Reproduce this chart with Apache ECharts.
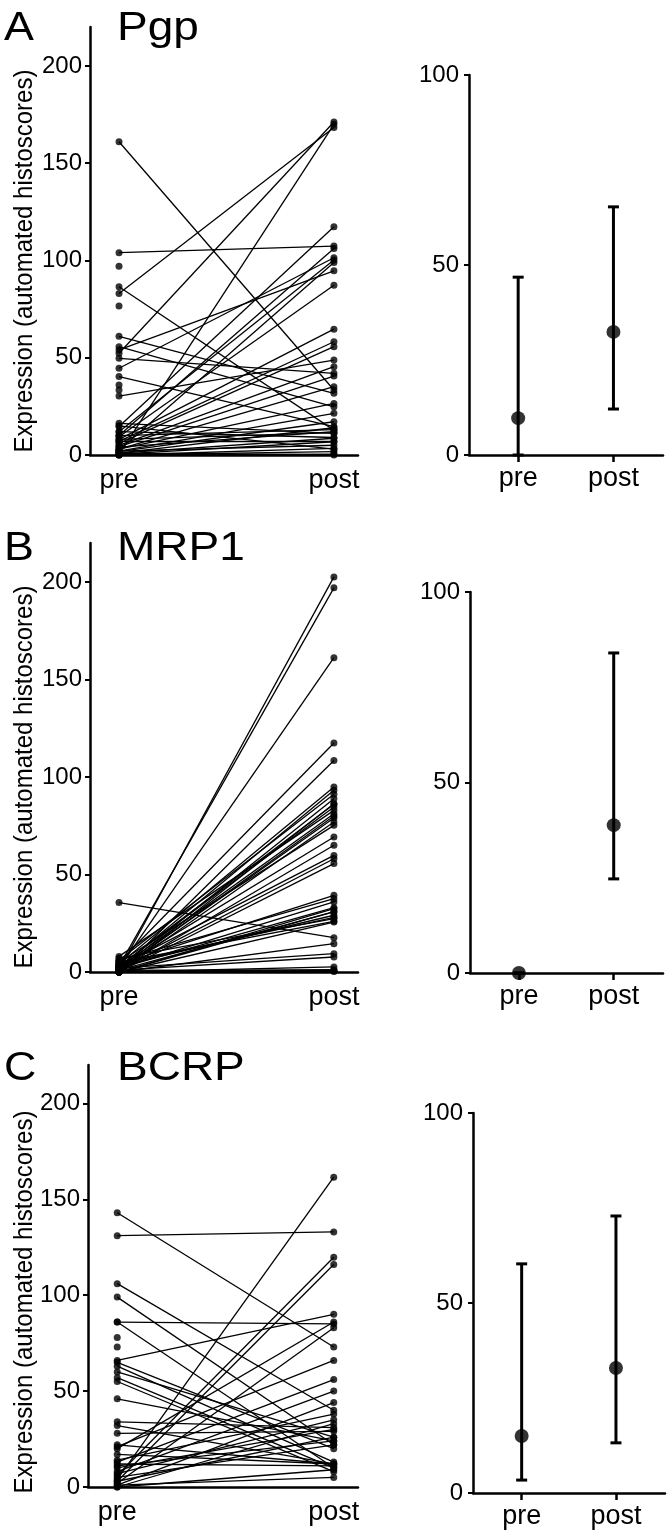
<!DOCTYPE html>
<html>
<head>
<meta charset="utf-8">
<script src="https://cdn.jsdelivr.net/npm/echarts@6/dist/echarts.min.js"></script>
<style>
  html, body { margin: 0; padding: 0; background: #fff; }
  #main { width: 672px; height: 1539px; }
</style>
</head>
<body>
<div id="main"></div>
<script>
// categories and ticks
const categories = ["pre", "post"];
const leftTicks = [0, 50, 100, 150, 200];
const rightTicks = [0, 50, 100];

// Pgp: paired histoscores (null = no paired value)
const pgpPre = [161, 104, 97, 86.5, 83, 76.6, 61, 55.7, 54, 52.3, 49.7, 44.6, 40.3, 36, 33.4, 30.3, 16.3, 14.6, 12, 10, 9.4, 8, 7, 6, 5, 4.3, 3, 3, 2, 1.7, 1, 1, 0.5, 0, 0, 0, 12, 8, 6.9, 15, 4, 10, 2, 1, 0.3, 2.5];
const pgpPost = [33.4, 107.4, null, 12.8, 168.3, null, 31.7, 24.8, 94.7, 171.2, 42, 101.4, 14.6, null, null, 48.8, 11.1, 117.3, 100.2, 106.2, 87.3, 64.7, 58.2, 55.7, 45.4, 40.6, 35.1, 26.5, 21.4, 17.1, 14, 8.6, 6.8, 3.4, 1.7, 0.5, 9, 11.5, 7, 3, 12, 13, 5, 0, 170, 99];
const pgpCenter = [9.7, 32.4];
const pgpLow = [0, 12.1];
const pgpHigh = [46.8, 65.3];

// MRP1
const mrp1Pre = [1, 3, 2, 5, 0, 4, 2, 6, 1, 0, 3, 8, 2, 1, 0, 5, 2, 0, 3, 1, 0, 4, 6, 2, 0, 1, 3, 7, 0, 35.6, 0, 2, 1, 0, 0.5, 0, 1, 0, 4, 2, 3, 1, 5, 0];
const mrp1Post = [202.6, 197, 161.2, 117.4, 108.5, 94.9, 93.2, 91.1, 88.9, 86.3, 84.6, 82.9, 81.2, 79, 76.9, 75.2, 69.2, 65, 59.8, 58.1, 55.6, 39.3, 37.6, 35.9, 32.5, 30.8, 29.1, 27.4, 25.6, 17.6, 14.5, 9.4, 7.7, 2.6, 1.2, 0.5, 0.8, 0.3, 28, 33, 86, 80, 26, 31];
const mrp1Center = [0, 38.8];
const mrp1Low = [0, 24.7];
const mrp1High = [0, 84];

// BCRP
const bcrpPre = [143, 131, 106, 99, 86, 86, 78, 73, 66, 65, 63, 60, 57, 55, 46, 34, 32, 28, 22, 21, 20, 14, 13, 12, 8, 6, 4, 3, 2, 1, 0, 0, 10, 5, 17, 7, 3, 11, 1];
const bcrpPost = [73, 133, 40, 22, 85, 10, null, null, 90, 20, 13, 26, 10, 8, 24, 31, 12, 29, 12, 66, 86, 38, 56, 11, 50, 119.8, 161.5, 116, 83, 44, 33, 9, 30, 22, 12, 35, 26, 24, 5];
const bcrpCenter = [15, 32.9];
const bcrpLow = [3.4, 13.2];
const bcrpHigh = [60.3, 72.9];

const FONT = "Liberation Sans, Arial, sans-serif";

const panels = [
  { letter: "A", name: "Pgp", pre: pgpPre, post: pgpPost, center: pgpCenter, low: pgpLow, high: pgpHigh,
    left: { left: 90, top: 27, width: 268, height: 428 },
    right: { left: 469, top: 75, width: 194, height: 380 },
    titleY: 9, nameY: 261 },
  { letter: "B", name: "MRP1", pre: mrp1Pre, post: mrp1Post, center: mrp1Center, low: mrp1Low, high: mrp1High,
    left: { left: 90, top: 543, width: 268, height: 429 },
    right: { left: 470, top: 592, width: 193, height: 381 },
    titleY: 529, nameY: 777 },
  { letter: "C", name: "BCRP", pre: bcrpPre, post: bcrpPost, center: bcrpCenter, low: bcrpLow, high: bcrpHigh,
    left: { left: 88, top: 1065, width: 270, height: 422 },
    right: { left: 473, top: 1113, width: 192, height: 380 },
    titleY: 1049, nameY: 1302 }
];

const axisLine = { show: true, onZero: false, lineStyle: { color: "#000", width: 2.5 } };

const grid = [];
const xAxis = [];
const yAxis = [];
const series = [];
const graphic = [];

function renderErr(params, api) {
  const x = api.value(0);
  const top = api.coord([x, api.value(2)]);
  const bot = api.coord([x, api.value(1)]);
  const cap = 5.5;
  const st = { stroke: "#000", lineWidth: 3 };
  return {
    type: "group",
    children: [
      { type: "line", shape: { x1: top[0], y1: top[1], x2: bot[0], y2: bot[1] }, style: st },
      { type: "line", shape: { x1: top[0] - cap, y1: top[1], x2: top[0] + cap, y2: top[1] }, style: st },
      { type: "line", shape: { x1: bot[0] - cap, y1: bot[1], x2: bot[0] + cap, y2: bot[1] }, style: st }
    ]
  };
}

panels.forEach((p, i) => {
  const li = i * 2, ri = i * 2 + 1;
  grid.push(p.left, p.right);

  // left: paired lines
  xAxis.push({
    type: "value", gridIndex: li, min: -0.135, max: 1.112,
    axisLine: axisLine, splitLine: { show: false }, axisTick: { show: false },
    axisLabel: { customValues: [0, 1], formatter: v => categories[Math.round(v)],
      fontSize: 27, color: "#000", fontFamily: FONT, margin: 12 }
  });
  yAxis.push({
    type: "value", gridIndex: li, min: 0, max: 220,
    axisLine: axisLine, splitLine: { show: false },
    axisTick: { show: true, customValues: leftTicks, length: 5, lineStyle: { color: "#000", width: 2 } },
    axisLabel: { customValues: leftTicks, fontSize: 24, color: "#000", fontFamily: FONT, margin: 8 }
  });

  // right: centre and error bars
  xAxis.push({
    type: "value", gridIndex: ri, min: -0.516, max: 1.52,
    axisLine: axisLine, splitLine: { show: false },
    axisTick: { show: true, customValues: [0, 1], length: 7, lineStyle: { color: "#000", width: 2.5 } },
    axisLabel: { customValues: [0, 1], formatter: v => categories[Math.round(v)],
      fontSize: 27, color: "#000", fontFamily: FONT, margin: 10 }
  });
  yAxis.push({
    type: "value", gridIndex: ri, min: 0, max: 100, interval: 50,
    axisLine: axisLine, splitLine: { show: false },
    axisTick: { show: true, length: 5, lineStyle: { color: "#000", width: 2 } },
    axisLabel: { fontSize: 24, color: "#000", fontFamily: FONT, margin: 10 }
  });

  const pairs = [];
  const dots = [];
  p.pre.forEach((v, k) => {
    const w = p.post[k];
    if (v != null) dots.push([0, v]);
    if (w != null) dots.push([1, w]);
    if (v != null && w != null) pairs.push({ coords: [[0, v], [1, w]] });
  });

  series.push({
    type: "lines", coordinateSystem: "cartesian2d", xAxisIndex: li, yAxisIndex: li,
    data: pairs, silent: true, z: 2,
    lineStyle: { color: "#000", width: 1.3, opacity: 1, curveness: 0 }
  });
  series.push({
    type: "scatter", xAxisIndex: li, yAxisIndex: li, data: dots, symbolSize: 7,
    itemStyle: { color: "#000" }, clip: false, silent: true, z: 3
  });
  series.push({
    type: "custom", xAxisIndex: ri, yAxisIndex: ri, renderItem: renderErr, clip: false, silent: true,
    encode: { x: 0, y: [1, 2] },
    data: categories.map((c, k) => [k, p.low[k], p.high[k]]), z: 2
  });
  series.push({
    type: "scatter", xAxisIndex: ri, yAxisIndex: ri, symbolSize: 14, clip: false, silent: true,
    itemStyle: { color: "#000" }, z: 3,
    data: categories.map((c, k) => [k, p.center[k]])
  });

  graphic.push({
    type: "text", x: 4, y: p.titleY, scaleX: 1.12,
    style: { text: p.letter, font: "40px " + FONT, fill: "#000", verticalAlign: "top" }
  });
  graphic.push({
    type: "text", x: 117, y: p.titleY, scaleX: 1.15,
    style: { text: p.name, font: "40px " + FONT, fill: "#000", verticalAlign: "top" }
  });
  // rotated axis title; local x runs along the text
  graphic.push({
    type: "text", x: 25, y: p.nameY, rotation: Math.PI / 2, scaleX: 0.96,
    style: { text: "Expression (automated histoscores)", font: "25px " + FONT, fill: "#000",
      align: "center", verticalAlign: "middle" }
  });
});

const chart = echarts.init(document.getElementById("main"), null, { renderer: "canvas" });
chart.setOption({
  animation: false,
  backgroundColor: "#fff",
  grid: grid,
  xAxis: xAxis,
  yAxis: yAxis,
  series: series,
  graphic: graphic
});
</script>
</body>
</html>
